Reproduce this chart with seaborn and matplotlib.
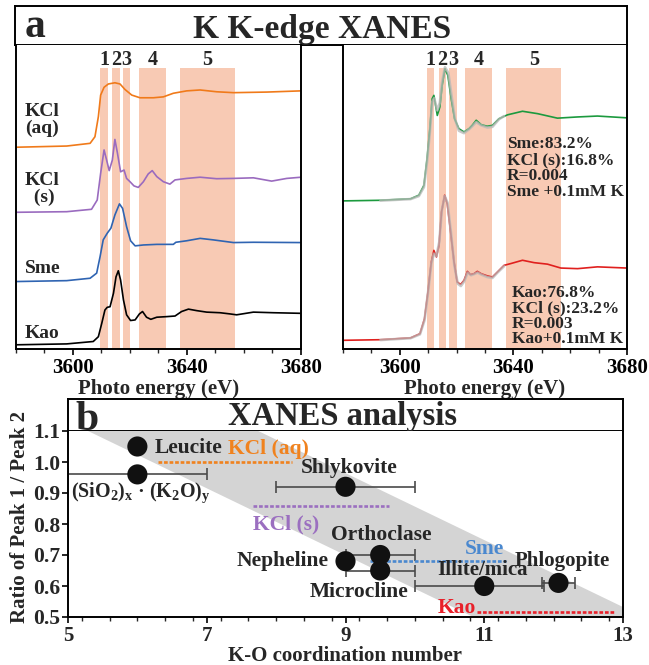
import matplotlib
matplotlib.use('Agg')
import matplotlib.pyplot as plt
import seaborn as sns
import pandas as pd
from matplotlib.ticker import FixedLocator, MultipleLocator

# ---------------- Panel a data (energy eV, stacked normalized absorbance) ----------------
kao_E = [3580, 3597.8, 3607.1, 3608.9, 3610.1, 3611.2, 3612.0, 3613.0, 3614.2, 3615.1, 3615.9,
         3616.7, 3617.7, 3618.8, 3620.2, 3621.8, 3623.3, 3624.4, 3625.8, 3627.3, 3629.4, 3632.9,
         3635.8, 3638.1, 3640.5, 3643.4, 3646.9, 3651.6, 3655.1, 3657.4, 3663.3, 3670.3, 3680]
kao_v = [0.07, 0.10, 0.18, 0.34, 0.79, 1.23, 1.32, 1.34, 1.79, 2.34, 2.54, 2.23, 1.57, 1.07,
         0.88, 0.90, 1.10, 1.18, 0.99, 0.92, 0.99, 1.01, 1.03, 1.18, 1.26, 1.21, 1.16, 1.14,
         1.10, 1.07, 1.16, 1.14, 1.12]

sme_E = [3580, 3597.8, 3606.0, 3608.3, 3609.5, 3610.6, 3612.0, 3613.3, 3614.7, 3616.3, 3617.4,
         3618.8, 3620.2, 3621.8, 3624.7, 3629.4, 3635.2, 3636.1, 3639.9, 3644.6, 3649.2, 3656.3,
         3663.3, 3680]
sme_v = [2.18, 2.21, 2.29, 2.46, 3.01, 3.57, 3.79, 3.96, 4.40, 4.77, 4.62, 4.01, 3.54, 3.37,
         3.40, 3.42, 3.42, 3.49, 3.54, 3.62, 3.57, 3.48, 3.49, 3.48]

kcls_E = [3580, 3597.8, 3606.5, 3608.5, 3609.7, 3610.9, 3611.8, 3612.7, 3613.8, 3614.7, 3615.6,
          3616.7, 3617.9, 3618.8, 3620.0, 3621.4, 3622.9, 3624.7, 3626.4, 3627.8, 3629.4, 3631.7,
          3634.0, 3635.8, 3639.9, 3644.6, 3650.4, 3656.3, 3663.3, 3669.7, 3675.0, 3680]
kcls_v = [4.49, 4.51, 4.59, 4.90, 5.79, 6.57, 6.23, 5.88, 6.23, 6.92, 6.46, 5.84, 5.90, 5.62,
          5.51, 5.37, 5.32, 5.51, 5.77, 5.88, 5.68, 5.51, 5.43, 5.57, 5.62, 5.66, 5.61, 5.62,
          5.64, 5.53, 5.62, 5.66]

kclaq_E = [3580, 3597.8, 3606.0, 3607.7, 3608.9, 3609.7, 3610.9, 3612.4, 3614.7, 3616.5, 3618.2,
           3620.6, 3623.5, 3628.2, 3631.7, 3635.2, 3639.9, 3644.6, 3650.4, 3656.3, 3668.0, 3680]
kclaq_v = [6.66, 6.70, 6.79, 7.01, 7.68, 8.40, 8.66, 8.77, 8.81, 8.77, 8.59, 8.40, 8.31, 8.31,
           8.34, 8.46, 8.54, 8.57, 8.51, 8.48, 8.50, 8.54]

smek_E = [3580, 3593.2, 3603.8, 3606.7, 3608.5, 3609.6, 3610.6, 3611.4, 3612.0, 3613.2, 3614.1,
          3614.9, 3615.9, 3616.9, 3618.1, 3619.3, 3620.8, 3622.6, 3624.4, 3625.5, 3626.9, 3628.7,
          3630.8, 3632.6, 3634.9, 3637.9, 3643.2, 3648.5, 3655.5, 3662.6, 3669.6, 3680]
smek_v = [4.87, 4.89, 4.94, 5.06, 5.39, 6.28, 7.28, 8.28, 8.39, 7.72, 8.00, 8.72, 9.28, 9.06,
          8.28, 7.61, 7.28, 7.17, 7.28, 7.39, 7.56, 7.41, 7.36, 7.39, 7.61, 7.74, 7.86, 7.78,
          7.63, 7.67, 7.70, 7.64]

kaok_E = [3580, 3593.2, 3603.8, 3607.1, 3608.7, 3609.9, 3611.1, 3612.0, 3612.9, 3613.8, 3614.7,
          3615.8, 3616.7, 3617.9, 3619.1, 3620.2, 3621.4, 3622.6, 3623.8, 3624.9, 3626.1, 3627.3,
          3628.7, 3630.8, 3632.6, 3634.4, 3636.7, 3639.1, 3643.2, 3647.3, 3652.0, 3656.7, 3662.6,
          3669.6, 3680]
kaok_v = [0.22, 0.24, 0.30, 0.44, 0.94, 1.83, 2.83, 3.22, 3.00, 3.39, 4.50, 5.06, 4.78, 3.83,
          2.83, 2.17, 2.08, 2.22, 2.52, 2.41, 2.44, 2.52, 2.44, 2.37, 2.33, 2.50, 2.72, 2.78,
          2.89, 2.81, 2.76, 2.63, 2.61, 2.67, 2.63]

smefit_E = [3593.2, 3603.8, 3606.7, 3608.5, 3609.6, 3610.6, 3611.4, 3612.1, 3613.2, 3614.1, 3614.9,
            3615.9, 3617.1, 3618.2, 3619.4, 3620.8, 3622.6, 3624.4, 3625.5, 3626.9, 3628.7, 3630.8,
            3632.6, 3634.9, 3636.7]
smefit_v = [4.88, 4.93, 5.03, 5.33, 6.17, 7.17, 8.17, 8.30, 7.89, 8.14, 8.83, 9.33, 9.14, 8.39,
            7.61, 7.21, 7.13, 7.26, 7.36, 7.50, 7.39, 7.32, 7.34, 7.59, 7.70]

kaofit_E = [3593.2, 3603.8, 3607.1, 3608.7, 3609.9, 3611.1, 3612.0, 3612.9, 3613.9, 3614.8, 3615.8,
            3616.8, 3618.0, 3619.2, 3620.4, 3621.5, 3622.7, 3623.9, 3625.1, 3626.2, 3627.4, 3628.8,
            3630.8, 3632.6, 3634.4, 3636.7]
kaofit_v = [0.23, 0.29, 0.42, 0.89, 1.78, 2.78, 3.11, 3.03, 3.50, 4.56, 5.03, 4.81, 3.83, 2.72,
            2.11, 2.03, 2.19, 2.48, 2.39, 2.43, 2.48, 2.41, 2.33, 2.30, 2.48, 2.69]

region_labels = ['1', '2', '3', '4', '5']
region_lo = [3609.5, 3613.8, 3617.5, 3623.1, 3637.5]
region_hi = [3612.2, 3616.4, 3620.1, 3632.6, 3656.8]

left_names = ['KCl\n(aq)', 'KCl\n (s)', 'Sme', 'Kao']
fit_text_sme = 'Sme:83.2%\nKCl (s):16.8%\nR=0.004\nSme +0.1mM K'
fit_text_kao = 'Kao:76.8%\nKCl (s):23.2%\nR=0.003\nKao+0.1mM K'

# ---------------- Panel b data ----------------
minerals = ['Leucite', r'(SiO$_{\mathbf{2}}$)$_{\mathrm{x}}$ · (K$_{\mathbf{2}}$O)$_{\mathrm{y}}$',
            'Shlykovite', 'Orthoclase', 'Nepheline', 'Microcline', 'Illite/mica', 'Phlogopite']
cn = [6.0, 6.0, 9.0, 9.5, 9.0, 9.5, 11.0, 12.07]
ratio = [1.05, 0.96, 0.92, 0.70, 0.68, 0.65, 0.60, 0.61]
xerr_lo = [0.0, 1.0, 1.0, 0.5, 0.0, 0.5, 1.0, 0.24]
xerr_hi = [0.0, 1.0, 1.0, 0.5, 0.0, 0.5, 0.86, 0.24]
lab_x = [6.25, 5.05, 9.05, 9.52, 8.76, 9.2, 10.98, 12.12]
lab_y = [1.046, 0.90, 0.982, 0.765, 0.68, 0.582, 0.652, 0.68]
lab_ha = ['left', 'left', 'center', 'center', 'right', 'center', 'center', 'center']
lab_fs = [15.5, 14.5, 15.5, 15.5, 15.5, 15.5, 15, 15]

ref_names = ['KCl (aq)', 'KCl (s)', 'Sme', 'Kao']
ref_ratio = [1.0, 0.857, 0.68, 0.517]
ref_x0 = [6.30, 7.67, 9.36, 10.90]
ref_x1 = [8.23, 9.62, 11.31, 12.88]
ref_colors = ['#F0821E', '#9B6FC0', '#4A88CF', '#E8202A']
ref_lab_x = [7.31, 7.67, 11.0, 10.88]
ref_lab_y = [1.042, 0.80, 0.72, 0.53]
ref_lab_ha = ['left', 'left', 'center', 'right']

band_x = [5.0, 13.0]
band_low = [1.132, 0.268]
band_high = [1.397, 0.533]

# ---------------- Style ----------------
sns.set_theme(style='white')
plt.rcParams['font.family'] = ['Liberation Serif', 'DejaVu Serif']
plt.rcParams['font.weight'] = 'bold'
plt.rcParams['axes.labelweight'] = 'bold'
plt.rcParams['mathtext.fontset'] = 'custom'
plt.rcParams['mathtext.rm'] = 'Liberation Serif:bold'
plt.rcParams['mathtext.bf'] = 'Liberation Serif:bold'
plt.rcParams['mathtext.it'] = 'Liberation Serif:bold'

W, H = 649, 665
fig = plt.figure(figsize=(W / 100, H / 100), dpi=100)
fig.patch.set_facecolor('white')


def rect(x0, y0, x1, y1):
    return [x0 / W, 1 - y1 / H, (x1 - x0) / W, (y1 - y0) / H]


SPW = 1.4
SHADE = '#F8CAB4'


def band(r, letter, title, lx, tx, lby, tby, fs_title):
    ax = fig.add_axes(r)
    ax.set_xticks([])
    ax.set_yticks([])
    for s in ax.spines.values():
        s.set_linewidth(SPW)
        s.set_color('black')
    ax.text(lx, lby, letter, transform=ax.transAxes, fontsize=30, fontweight='bold',
            ha='left', va='baseline')
    ax.text(tx, tby, title, transform=ax.transAxes, fontsize=fs_title, fontweight='bold',
            ha='center', va='baseline')
    return ax


band(rect(15, 6, 627, 45), 'a', 'K K-edge XANES', 0.016, 0.502, 0.2, 0.19, 24)


def spec_axes(r):
    ax = fig.add_axes(r)
    ax.set_xlim(3580, 3680)
    ax.set_ylim(-0.07, 10.07)
    ax.set_yticks([])
    ax.spines['top'].set_visible(False)
    for s in ['left', 'right', 'bottom']:
        ax.spines[s].set_linewidth(SPW)
        ax.spines[s].set_color('black')
    ax.xaxis.set_major_locator(FixedLocator([3600, 3640, 3680]))
    ax.xaxis.set_minor_locator(MultipleLocator(10))
    ax.tick_params(axis='x', which='major', direction='out', length=4, width=1.2,
                   labelsize=15, pad=2.5, bottom=True, colors='black')
    ax.tick_params(axis='x', which='minor', direction='out', length=3, width=1.0, bottom=True)
    for lb in ax.get_xticklabels():
        lb.set_fontweight('bold')
    ax.set_xlabel('Photo energy (eV)', fontsize=15, fontweight='bold')
    ax.xaxis.set_label_coords(0.5, -0.133)
    ax.xaxis.label.set_va('center')
    for lo, hi, lab in zip(region_lo, region_hi, region_labels):
        ax.axvspan(lo, hi, ymin=0, ymax=0.923, color=SHADE, lw=0, zorder=0)
        ax.text((lo + hi) / 2, 0.95, lab, transform=ax.get_xaxis_transform(),
                ha='center', va='center', fontsize=14.5, fontweight='bold')
    return ax


axL = spec_axes(rect(16, 45, 301, 349))
axR = spec_axes(rect(343, 45, 627, 349))

for E, v, c in [(kclaq_E, kclaq_v, '#F07A1A'), (kcls_E, kcls_v, '#9A6BBF'),
                (sme_E, sme_v, '#2F64B2'), (kao_E, kao_v, '#000000')]:
    sns.lineplot(x=E, y=v, ax=axL, color=c, lw=1.2, estimator=None, sort=False, legend=False)

left_lab_pos = [(0.032, 0.753, 'left'), (0.091, 0.526, 'center'), (0.032, 0.266, 'left'),
                (0.032, 0.050, 'left')]
for name, (x, y, ha) in zip(left_names, left_lab_pos):
    axL.text(x, y, name, transform=axL.transAxes, ha=ha, va='center', fontsize=14,
             fontweight='bold', linespacing=0.95,
             multialignment='center' if ha == 'center' else 'left')

sns.lineplot(x=smek_E, y=smek_v, ax=axR, color='#1C9A3E', lw=1.2, estimator=None, sort=False,
             legend=False)
sns.lineplot(x=kaok_E, y=kaok_v, ax=axR, color='#E0201E', lw=1.2, estimator=None, sort=False,
             legend=False)
sns.lineplot(x=smefit_E, y=smefit_v, ax=axR, color='#B8B8B8', lw=1.9, alpha=0.75, estimator=None,
             sort=False, legend=False)
sns.lineplot(x=kaofit_E, y=kaofit_v, ax=axR, color='#B8B8B8', lw=1.9, alpha=0.75, estimator=None,
             sort=False, legend=False)

axR.text(3637.6, 0.70, fit_text_sme, transform=axR.get_xaxis_transform(), ha='left', va='top',
         fontsize=12.5, fontweight='bold', linespacing=1.0)
axR.text(3639.4, 0.212, fit_text_kao, transform=axR.get_xaxis_transform(), ha='left', va='top',
         fontsize=12.5, fontweight='bold', linespacing=0.97)

# ---------------- Panel b ----------------
band(rect(68, 399, 623, 431), 'b', 'XANES analysis', 0.013, 0.494, 0.02, 0.19, 23.5)

axb = fig.add_axes(rect(68, 431, 623, 617))
axb.set_xlim(5, 13)
axb.set_ylim(0.5, 1.1)
for s in axb.spines.values():
    s.set_linewidth(SPW)
    s.set_color('black')
axb.spines['top'].set_visible(False)

axb.fill_between(band_x, band_low, band_high, color='#D4D4D4', lw=0, zorder=0)

df = pd.DataFrame({'mineral': minerals, 'cn': cn, 'ratio': ratio,
                   'lo': xerr_lo, 'hi': xerr_hi})
err = df[(df['lo'] > 0) | (df['hi'] > 0)]
axb.errorbar(err['cn'], err['ratio'], xerr=[err['lo'], err['hi']], fmt='none',
             ecolor='#4a4a4a', elinewidth=1.2, capsize=4, capthick=1.2, zorder=2)
sns.scatterplot(data=df, x='cn', y='ratio', ax=axb, color='#111111', s=210, edgecolor='none',
                zorder=3, legend=False)

for name, x, y, ha, fs in zip(minerals, lab_x, lab_y, lab_ha, lab_fs):
    axb.text(x, y, name, ha=ha, va='center', fontsize=fs, fontweight='bold', zorder=4)

for name, r, x0, x1, c, lx, ly, lha in zip(ref_names, ref_ratio, ref_x0, ref_x1, ref_colors,
                                           ref_lab_x, ref_lab_y, ref_lab_ha):
    axb.plot([x0, x1], [r, r], color=c, lw=1.9, linestyle=(0, (1.4, 0.7)), zorder=2)
    axb.text(lx, ly, name, color=c, ha=lha, va='center', fontsize=15.5, fontweight='bold', zorder=4)

axb.xaxis.set_major_locator(FixedLocator([5, 7, 9, 11, 13]))
axb.xaxis.set_minor_locator(MultipleLocator(0.4))
axb.yaxis.set_major_locator(FixedLocator([0.5, 0.6, 0.7, 0.8, 0.9, 1.0, 1.1]))
axb.set_yticklabels(['0.5', '0.6', '0.7', '0.8', '0.9', '1.0', '1.1'])
axb.tick_params(axis='x', which='major', direction='out', length=4, width=1.4, labelsize=15,
                pad=2.5, bottom=True)
axb.tick_params(axis='x', which='minor', direction='out', length=3, width=1.0, bottom=True)
axb.tick_params(axis='y', which='major', direction='out', length=4, width=1.4, labelsize=15.5,
                pad=1.5, left=True)
for lb in axb.get_xticklabels() + axb.get_yticklabels():
    lb.set_fontweight('bold')
axb.set_xlabel('K-O coordination number', fontsize=15, fontweight='bold')
axb.xaxis.set_label_coords(0.5, -0.212)
axb.xaxis.label.set_va('center')
axb.set_ylabel('Ratio of Peak 1 / Peak 2', fontsize=15, fontweight='bold')
axb.yaxis.set_label_coords(-0.087, 0.54)
axb.yaxis.label.set_va('center')

fig.savefig('out.png', dpi=100, facecolor='white')
